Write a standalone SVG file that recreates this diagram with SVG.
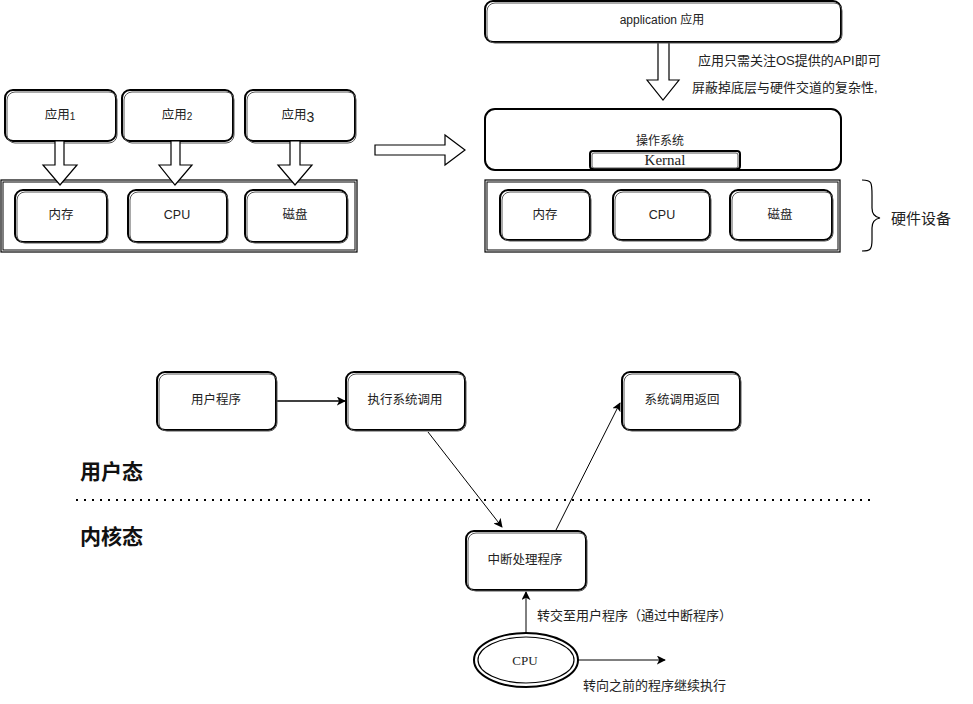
<svg xmlns="http://www.w3.org/2000/svg" width="973" height="704" viewBox="0 0 973 704">
<defs>
<style>
.bx{fill:#fff;stroke:#000;stroke-width:2}
.bx2{fill:none;stroke:#555;stroke-width:1}
.ct{fill:none;stroke:#000;stroke-width:1.5}
.ct2{fill:none;stroke:#000;stroke-width:1}
.t{font-family:"Liberation Sans","Noto Sans CJK SC",sans-serif;font-size:12.5px;fill:#222;text-anchor:middle;dominant-baseline:central}
.tl{font-family:"Liberation Sans","Noto Sans CJK SC",sans-serif;font-size:13px;fill:#222;dominant-baseline:central}
.serif{font-family:"Liberation Serif","Noto Sans CJK SC",serif;font-size:15px;fill:#222;text-anchor:middle;dominant-baseline:central}
.big{font-family:"Noto Sans CJK SC",sans-serif;font-size:21px;font-weight:bold;fill:#111}
.blk{fill:#fff;stroke:#000;stroke-width:1.2}
.ln{fill:none;stroke:#000;stroke-width:1.2}
</style>
<marker id="ah" viewBox="0 0 10 10" refX="9" refY="5" markerWidth="9" markerHeight="9" markerUnits="userSpaceOnUse" orient="auto">
<path d="M0,0 L10,5 L0,10 L2.5,5 Z" fill="#000"/>
</marker>
</defs>

<!-- Top-left -->
<g id="app1"><rect class="bx" x="5" y="90" width="111" height="51" rx="8"/><rect class="bx2" x="7" y="92" width="110" height="51" rx="8"/><text class="t" x="60" y="115">应用<tspan font-size="10" dy="1">1</tspan></text></g>
<g id="app2"><rect class="bx" x="122" y="90" width="111" height="51" rx="8"/><rect class="bx2" x="124" y="92" width="110" height="51" rx="8"/><text class="t" x="177" y="115">应用<tspan font-size="10" dy="1">2</tspan></text></g>
<g id="app3"><rect class="bx" x="245" y="90" width="110" height="51" rx="8"/><rect class="bx2" x="247" y="92" width="109" height="51" rx="8"/><text class="t" x="298" y="115">应用<tspan font-size="14" dy="2">3</tspan></text></g>

<g id="hw-left">
<rect x="1" y="180" width="356" height="72" fill="#fff" stroke="#000" stroke-width="1.2"/>
<rect x="3" y="182" width="352" height="68" fill="none" stroke="#000" stroke-width="1"/>
</g>
<g id="mem1"><rect class="bx" x="15" y="190" width="92" height="52" rx="8"/><rect class="bx2" x="17" y="192" width="91" height="51" rx="8"/><text class="t" x="61" y="215">内存</text></g>
<g id="cpu1"><rect class="bx" x="128" y="190" width="99" height="52" rx="8"/><rect class="bx2" x="130" y="192" width="98" height="51" rx="8"/><text class="t" x="177" y="215">CPU</text></g>
<g id="disk1"><rect class="bx" x="245" y="190" width="102" height="52" rx="8"/><rect class="bx2" x="247" y="192" width="101" height="51" rx="8"/><text class="t" x="295" y="215">磁盘</text></g>

<g id="connectors">
<path class="blk" d="M55,141 L64,141 L64,165 L77,165 L60,185 L43,165 L55,165 Z"/>
<path class="blk" d="M171,141 L180,141 L180,165 L192,165 L175,185 L159,165 L171,165 Z"/>
<path class="blk" d="M290,141 L300,141 L300,165 L312,165 L295,185 L278,165 L290,165 Z"/>
<path class="blk" d="M375,145 L445,145 L445,135 L465,150 L445,165 L445,155 L375,155 Z"/>
<path class="blk" d="M658,42 L669,42 L669,80 L679,80 L663,100 L647,80 L658,80 Z"/>
<path class="ln" d="M862,180 C872,180 872,183 872,195 L872,208 C872,214 874,217 880,218 C874,219 872,222 872,228 L872,240 C872,250 870,251 862,251"/>
<line class="ct" x1="276" y1="401" x2="345" y2="401" marker-end="url(#ah)"/>
<line class="ct2" x1="428" y1="432" x2="502" y2="527" marker-end="url(#ah)"/>
<line class="ct2" x1="556" y1="530" x2="620" y2="403" marker-end="url(#ah)"/>
<line class="ct2" x1="526" y1="633" x2="526" y2="592" marker-end="url(#ah)"/>
<line class="ct2" x1="578" y1="660" x2="665" y2="660" marker-end="url(#ah)"/>
<line x1="76" y1="500" x2="870" y2="500" stroke="#000" stroke-width="2" stroke-dasharray="2,6"/>
</g>

<!-- Top-right -->
<g id="application"><rect class="bx" x="485" y="1" width="356" height="41" rx="8"/><rect class="bx2" x="487" y="3" width="355" height="40" rx="8"/><text class="t" x="662" y="20" style="font-size:12px">application 应用</text></g>
<text class="tl" x="698" y="60">应用只需关注OS提供的API即可</text>
<text class="tl" x="692" y="87">屏蔽掉底层与硬件交道的复杂性,</text>

<g id="os"><rect class="bx" x="485" y="109" width="356" height="61" rx="10" stroke-width="1.3"/><text class="t" x="660" y="141" style="font-size:12px">操作系统</text></g>
<g id="kernal"><rect class="bx" x="590" y="151" width="150" height="18" rx="3"/><rect class="bx2" x="592" y="153" width="146" height="15" rx="2"/><text class="serif" x="665" y="160">Kernal</text></g>

<g id="hw-right">
<rect x="485" y="180" width="355" height="72" fill="#fff" stroke="#000" stroke-width="1.2"/>
<rect x="487" y="182" width="351" height="68" fill="none" stroke="#000" stroke-width="1"/>
</g>
<g id="mem2"><rect class="bx" x="500" y="190" width="90" height="50" rx="8"/><rect class="bx2" x="502" y="192" width="89" height="49" rx="8"/><text class="t" x="545" y="215">内存</text></g>
<g id="cpu2"><rect class="bx" x="613" y="190" width="97" height="50" rx="8"/><rect class="bx2" x="615" y="192" width="96" height="49" rx="8"/><text class="t" x="662" y="215">CPU</text></g>
<g id="disk2"><rect class="bx" x="730" y="190" width="102" height="50" rx="8"/><rect class="bx2" x="732" y="192" width="101" height="49" rx="8"/><text class="t" x="780" y="215">磁盘</text></g>
<text class="tl" x="891" y="218" style="font-size:15px">硬件设备</text>

<!-- Bottom -->
<g id="user-prog"><rect class="bx" x="157" y="372" width="119" height="58" rx="8" stroke-width="1.3"/><rect class="bx2" x="159" y="374" width="118" height="57" rx="8"/><text class="t" x="216" y="400">用户程序</text></g>
<g id="syscall"><rect class="bx" x="346" y="372" width="119" height="58" rx="8" stroke-width="1.3"/><rect class="bx2" x="348" y="374" width="118" height="57" rx="8"/><text class="t" x="405" y="400">执行系统调用</text></g>
<g id="sysret"><rect class="bx" x="622" y="372" width="118" height="58" rx="8" stroke-width="1.3"/><rect class="bx2" x="624" y="374" width="117" height="57" rx="8"/><text class="t" x="682" y="400">系统调用返回</text></g>
<g id="interrupt"><rect class="bx" x="466" y="531" width="120" height="59" rx="8" stroke-width="1.3"/><rect class="bx2" x="468" y="533" width="119" height="58" rx="8"/><text class="t" x="525" y="560">中断处理程序</text></g>
<g id="cpu3"><ellipse cx="526" cy="660" rx="52" ry="27" fill="#fff" stroke="#000" stroke-width="2"/><ellipse cx="526" cy="660" rx="48" ry="23" fill="none" stroke="#000" stroke-width="1.2"/><text class="serif" x="525" y="660" style="font-size:13px">CPU</text></g>

<text class="tl" x="537" y="615">转交至用户程序（通过中断程序）</text>
<text class="tl" x="583" y="685">转向之前的程序继续执行</text>
<text class="big" x="80" y="479">用户态</text>
<text class="big" x="80" y="544">内核态</text>
</svg>
